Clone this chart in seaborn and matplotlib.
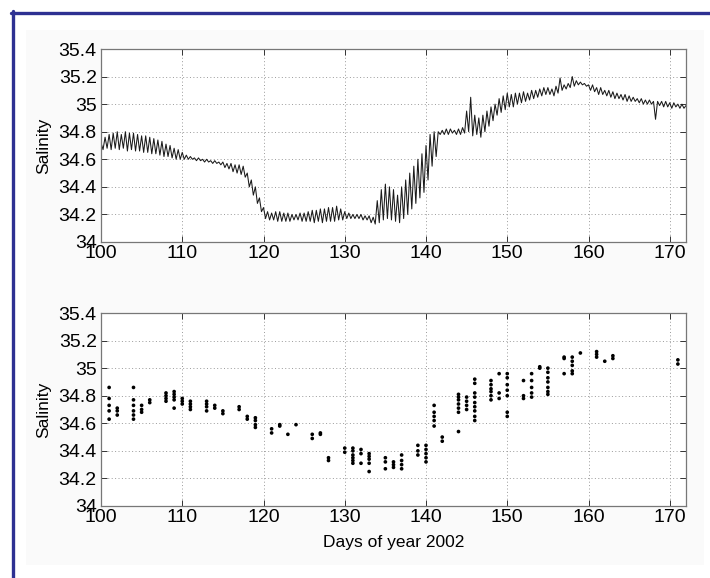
import numpy as np
import pandas as pd
import matplotlib
matplotlib.use("Agg")
import matplotlib.pyplot as plt
from matplotlib.lines import Line2D
from matplotlib.patches import Rectangle
import seaborn as sns

# ---------------- data ----------------
# Top panel: continuous record, 4 samples per day (tidal highs / lows)
ts_start_day = 100
ts_salinity = [
    34.72, 34.67, 34.76, 34.68,  # 100
    34.78, 34.67, 34.79, 34.68,  # 101
    34.80, 34.67, 34.78, 34.68,  # 102
    34.80, 34.66, 34.79, 34.67,  # 103
    34.79, 34.66, 34.78, 34.66,  # 104
    34.77, 34.65, 34.77, 34.65,  # 105
    34.76, 34.64, 34.75, 34.64,  # 106
    34.74, 34.63, 34.73, 34.62,  # 107
    34.71, 34.62, 34.70, 34.61,  # 108
    34.68, 34.60, 34.67, 34.60,  # 109
    34.65, 34.60, 34.63, 34.60,  # 110
    34.62, 34.60, 34.61, 34.59,  # 111
    34.61, 34.59, 34.60, 34.58,  # 112
    34.60, 34.58, 34.59, 34.57,  # 113
    34.59, 34.57, 34.58, 34.56,  # 114
    34.58, 34.54, 34.57, 34.53,  # 115
    34.57, 34.51, 34.56, 34.50,  # 116
    34.56, 34.49, 34.55, 34.47,  # 117
    34.50, 34.40, 34.45, 34.34,  # 118
    34.40, 34.28, 34.32, 34.22,  # 119
    34.25, 34.17, 34.22, 34.16,  # 120
    34.21, 34.16, 34.22, 34.15,  # 121
    34.22, 34.15, 34.21, 34.15,  # 122
    34.21, 34.15, 34.20, 34.16,  # 123
    34.20, 34.16, 34.21, 34.15,  # 124
    34.21, 34.15, 34.22, 34.15,  # 125
    34.23, 34.14, 34.23, 34.15,  # 126
    34.24, 34.14, 34.24, 34.15,  # 127
    34.25, 34.15, 34.25, 34.15,  # 128
    34.26, 34.16, 34.24, 34.16,  # 129
    34.22, 34.17, 34.21, 34.17,  # 130
    34.20, 34.17, 34.20, 34.17,  # 131
    34.20, 34.16, 34.19, 34.16,  # 132
    34.19, 34.14, 34.18, 34.13,  # 133
    34.30, 34.14, 34.38, 34.16,  # 134
    34.42, 34.17, 34.40, 34.16,  # 135
    34.38, 34.15, 34.34, 34.14,  # 136
    34.40, 34.17, 34.45, 34.20,  # 137
    34.50, 34.24, 34.55, 34.28,  # 138
    34.60, 34.32, 34.64, 34.36,  # 139
    34.70, 34.45, 34.78, 34.55,  # 140
    34.80, 34.62, 34.80, 34.78,  # 141
    34.81, 34.78, 34.82, 34.78,  # 142
    34.82, 34.79, 34.81, 34.78,  # 143
    34.82, 34.78, 34.83, 34.79,  # 144
    34.95, 34.80, 35.05, 34.77,  # 145
    34.92, 34.78, 34.90, 34.76,  # 146
    34.92, 34.80, 34.95, 34.84,  # 147
    34.98, 34.88, 35.00, 34.92,  # 148
    35.04, 34.94, 35.06, 34.96,  # 149
    35.08, 34.98, 35.07, 34.98,  # 150
    35.08, 35.00, 35.08, 35.01,  # 151
    35.09, 35.02, 35.08, 35.03,  # 152
    35.10, 35.04, 35.10, 35.05,  # 153
    35.11, 35.06, 35.12, 35.07,  # 154
    35.12, 35.07, 35.11, 35.06,  # 155
    35.13, 35.08, 35.19, 35.10,  # 156
    35.14, 35.11, 35.15, 35.12,  # 157
    35.20, 35.13, 35.17, 35.14,  # 158
    35.16, 35.14, 35.15, 35.13,  # 159
    35.14, 35.10, 35.14, 35.09,  # 160
    35.12, 35.07, 35.12, 35.07,  # 161
    35.10, 35.06, 35.10, 35.05,  # 162
    35.09, 35.04, 35.08, 35.04,  # 163
    35.07, 35.03, 35.07, 35.02,  # 164
    35.06, 35.02, 35.05, 35.02,  # 165
    35.04, 35.01, 35.04, 35.00,  # 166
    35.03, 35.00, 35.03, 35.00,  # 167
    35.02, 34.89, 35.02, 34.99,  # 168
    35.02, 34.98, 35.02, 34.98,  # 169
    35.01, 34.97, 35.01, 34.98,  # 170
    35.00, 34.97, 35.00, 34.97,  # 171
    34.99,                       # 172
]
ts_samples_per_day = 4

# Bottom panel: discrete samples (day -> salinity values)
sample_days = [101, 102, 104, 105, 106, 108, 109, 110, 111, 113, 114, 115,
               117, 118, 119, 121, 122, 123, 124, 126, 127, 128, 130, 131,
               132, 133, 135, 136, 137, 139, 140, 141, 142, 144, 145, 146,
               148, 149, 150, 152, 153, 154, 155, 157, 158, 159, 161, 162,
               163, 171]
sample_values = [
    [34.86, 34.78, 34.73, 34.69, 34.63],
    [34.71, 34.69, 34.66],
    [34.86, 34.77, 34.73, 34.69, 34.66, 34.63],
    [34.73, 34.70, 34.68],
    [34.77, 34.75],
    [34.82, 34.80, 34.78, 34.76],
    [34.83, 34.81, 34.79, 34.77, 34.71],
    [34.78, 34.76, 34.74],
    [34.76, 34.74, 34.72, 34.70],
    [34.76, 34.74, 34.72, 34.69],
    [34.73, 34.71],
    [34.69, 34.67],
    [34.72, 34.70],
    [34.65, 34.63],
    [34.64, 34.62, 34.59, 34.57],
    [34.56, 34.53],
    [34.59, 34.58],
    [34.52],
    [34.59],
    [34.52, 34.49],
    [34.53, 34.52],
    [34.35, 34.33],
    [34.42, 34.39],
    [34.42, 34.40, 34.37, 34.35, 34.33, 34.31],
    [34.41, 34.38, 34.31],
    [34.38, 34.36, 34.34, 34.31, 34.25],
    [34.35, 34.32, 34.27],
    [34.32, 34.30, 34.28],
    [34.37, 34.33, 34.30, 34.27],
    [34.44, 34.40, 34.37],
    [34.44, 34.41, 34.38, 34.35, 34.32],
    [34.73, 34.68, 34.65, 34.62, 34.58],
    [34.50, 34.47],
    [34.81, 34.79, 34.77, 34.74, 34.71, 34.68, 34.54],
    [34.79, 34.76, 34.73, 34.70],
    [34.92, 34.89, 34.82, 34.79, 34.75, 34.72, 34.69, 34.65, 34.62],
    [34.91, 34.88, 34.85, 34.83, 34.80, 34.77],
    [34.96, 34.82, 34.78],
    [34.96, 34.93, 34.88, 34.84, 34.80, 34.68, 34.65],
    [34.91, 34.80, 34.78],
    [34.96, 34.91, 34.86, 34.82, 34.79],
    [35.01, 35.00],
    [35.00, 34.97, 34.93, 34.90, 34.86, 34.83, 34.81],
    [35.08, 35.07, 34.96],
    [35.08, 35.05, 35.02, 34.98, 34.96],
    [35.11],
    [35.12, 35.10, 35.08],
    [35.05],
    [35.09, 35.07],
    [35.06, 35.03],
]

y_ticks = [34, 34.2, 34.4, 34.6, 34.8, 35, 35.2, 35.4]
y_tick_labels = ["34", "34.2", "34.4", "34.6", "34.8", "35", "35.2", "35.4"]
x_ticks = [100, 110, 120, 130, 140, 150, 160, 170]
y_label = "Salinity"
x_label = "Days of year 2002"

# ---------------- frames ----------------
ts_df = pd.DataFrame({
    "day": ts_start_day + np.arange(len(ts_salinity)) / ts_samples_per_day,
    "salinity": ts_salinity,
})
rows = []
for d, vals in zip(sample_days, sample_values):
    for v in vals:
        rows.append((d, v))
sc_df = pd.DataFrame(rows, columns=["day", "salinity"])

# ---------------- style ----------------
sns.set_theme(style="white")
plt.rcParams["font.family"] = ["Liberation Sans", "DejaVu Sans"]

W, H = 710, 578
fig = plt.figure(figsize=(W / 100, H / 100), dpi=100, facecolor="white")

# faint inner panel + blue frame lines
fig.patches.append(Rectangle((26 / W, 1 - 565 / H), (704 - 26) / W, (565 - 30) / H,
                             transform=fig.transFigure, facecolor="#fafafa",
                             edgecolor="none", zorder=-10))
fig.lines.append(Line2D([11 / W, 1.0], [1 - 12.5 / H, 1 - 12.5 / H],
                        transform=fig.transFigure, color="#2e3192", lw=2.4))
fig.lines.append(Line2D([12.5 / W, 12.5 / W], [0.0, 1 - 11 / H],
                        transform=fig.transFigure, color="#2e3192", lw=2.4))

ax_w = (686 - 101) / W
ax_h = (242 - 49) / H
ax1 = fig.add_axes([101 / W, 1 - 242 / H, ax_w, ax_h])
ax2 = fig.add_axes([101 / W, 1 - 506 / H, ax_w, (506 - 313) / H])

sns.lineplot(data=ts_df, x="day", y="salinity", ax=ax1, color="#1a1a1a",
             linewidth=0.75, sort=False, estimator=None)
sns.scatterplot(data=sc_df, x="day", y="salinity", ax=ax2, color="black",
                marker="o", s=7, linewidth=0, edgecolor="none")

for ax in (ax1, ax2):
    ax.set_facecolor("white")
    ax.set_xlim(100, 172)
    ax.set_ylim(34, 35.4)
    ax.set_xticks(x_ticks)
    ax.set_xticklabels([str(t) for t in x_ticks])
    ax.set_yticks(y_ticks)
    ax.set_yticklabels(y_tick_labels)
    ax.grid(True, linestyle=(0, (1, 2.5)), color="#9a9a9a", linewidth=0.7)
    ax.tick_params(direction="in", length=4, width=0.7, color="#333333",
                   top=True, right=True, bottom=True, left=True,
                   labelsize=14, labelcolor="black", pad=3)
    ax.tick_params(axis="x", pad=2)
    for s in ax.spines.values():
        s.set_visible(True)
        s.set_color("#777777")
        s.set_linewidth(0.9)
    ax.set_ylabel(y_label, fontsize=12.5, labelpad=5, color="black")
    ax.set_xlabel("")

ax2.set_xlabel(x_label, fontsize=12.5, labelpad=7, color="black")

fig.savefig("out.png", dpi=100, facecolor=fig.get_facecolor())
